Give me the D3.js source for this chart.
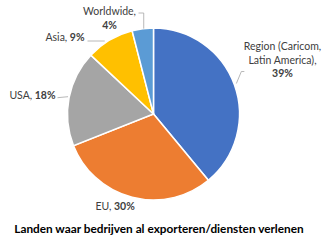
<!DOCTYPE html>
<html>
<head>
<meta charset="utf-8">
<script src="https://d3js.org/d3.v7.min.js"></script>
<style>
    body { margin: 0; background: #fff; }
    text { font-family: Lato, "Liberation Sans", sans-serif; }
</style>
</head>
<body>
<svg id="chart"></svg>
<script>
    // data
    const categories = ["Region (Caricom, Latin America)", "EU", "USA", "Asia", "Worldwide"];
    const values = [39, 30, 18, 9, 4];
    const colors = ["#4472C4", "#ED7D31", "#A5A5A5", "#FFC000", "#5B9BD5"];
    const title = "Landen waar bedrijven al exporteren/diensten verlenen";

    // label text lines per slice (last line carries the bold percentage)
    const labelLines = [
        ["Region (Caricom,", "Latin America),"],
        ["EU,"],
        ["USA,"],
        ["Asia,"],
        ["Worldwide,"]
    ];

    const width = 326, height = 240;
    const cx = 153.5, cy = 114, radius = 86;

    let svg = d3.select("svg#chart")
                .attr("width", width)
                .attr("height", height);

    let pieGen = d3.pie().sort(null).value(d => d);
    let arcs = pieGen(values);
    let arcGen = d3.arc().innerRadius(0).outerRadius(radius);

    let chartArea = svg.append("g")
                       .attr("transform", `translate(${cx}, ${cy})`);

    chartArea.selectAll("path")
             .data(arcs)
             .join("path")
             .attr("d", arcGen)
             .attr("fill", (d, i) => colors[i])
             .attr("stroke", "#fff")
             .attr("stroke-width", 1.5);

    // point on the rim for a slice (mid angle)
    const rim = (d, r) => {
        let a = (d.startAngle + d.endAngle) / 2;
        return [Math.sin(a) * r, -Math.cos(a) * r];
    };

    const labelColor = "#404040";
    const fs = 10.5;

    // label placement (relative to pie centre): x, y of first line, anchor
    const labelPos = [
        {x: 129, y: -64, anchor: "middle", bold: "newline"},
        {x: -58, y: 96, anchor: "start"},
        {x: -98, y: -15, anchor: "end"},
        {x: -69, y: -73, anchor: "end"},
        {x: -44, y: -99, anchor: "middle", bold: "newline"}
    ];

    let labels = svg.append("g").attr("transform", `translate(${cx}, ${cy})`);

    arcs.forEach((d, i) => {
        let p = labelPos[i];
        let t = labels.append("text")
                      .attr("text-anchor", p.anchor)
                      .attr("font-size", fs)
                      .attr("fill", labelColor);
        let lines = labelLines[i];
        lines.forEach((ln, j) => {
            let ts = t.append("tspan")
                      .attr("x", p.x)
                      .attr("y", p.y + j * 13.5)
                      .text(ln);
            if (j === lines.length - 1 && p.bold !== "newline") {
                ts.append("tspan").attr("font-weight", "bold").text(" " + values[i] + "%");
            }
        });
        if (p.bold === "newline") {
            t.append("tspan")
             .attr("x", p.x)
             .attr("y", p.y + lines.length * 13.5)
             .attr("font-weight", "bold")
             .text(values[i] + "%");
        }
    });

    // leader lines
    const leader = (pts) => labels.append("path")
                                  .attr("d", d3.line()(pts))
                                  .attr("fill", "none")
                                  .attr("stroke", "#a6a6a6")
                                  .attr("stroke-width", 0.8);
    let r0 = rim(arcs[0], radius + 1);
    leader([[r0[0] + 1, r0[1] - 1], [r0[0] + 6, r0[1] - 13], [r0[0] + 9, r0[1] - 13]]);
    let r2 = rim(arcs[2], radius + 1);
    leader([[-96, r2[1]], [r2[0], r2[1] - 1]]);
    let r3 = rim(arcs[3], radius - 2);
    leader([[-66, -73], [r3[0] - 6, -73]]);
    let r4 = rim(arcs[4], radius);
    leader([[-15, -101], [r4[0] + 1, -101], [r4[0] + 1, r4[1]]]);

    // title
    svg.append("text")
       .attr("x", 159)
       .attr("y", 233)
       .attr("text-anchor", "middle")
       .attr("font-size", 11.8)
       .attr("font-weight", "bold")
       .attr("fill", "#000")
       .text(title);
</script>
</body>
</html>
